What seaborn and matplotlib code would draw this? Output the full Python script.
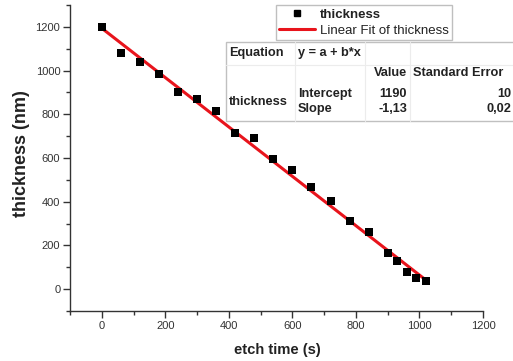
import numpy as np
import pandas as pd
import matplotlib
matplotlib.use("Agg")
import matplotlib.pyplot as plt
from matplotlib.lines import Line2D
from matplotlib.patches import Rectangle
import seaborn as sns

# ---- data ----
etch_time = [0, 60, 120, 180, 240, 300, 360, 420, 480, 540, 600, 660, 720,
             780, 840, 900, 930, 960, 990, 1020]
thickness = [1200, 1080, 1040, 984, 904, 868, 815, 716, 690, 594, 543, 469,
             404, 310, 262, 167, 127, 80, 49, 37]
x_ticks = [0, 200, 400, 600, 800, 1000, 1200]
y_ticks = [0, 200, 400, 600, 800, 1000, 1200]
fit_intercept_txt = "1190"
fit_slope_txt = "-1,13"
fit_int_err_txt = "10"
fit_slope_err_txt = "0,02"

df = pd.DataFrame({"etch time (s)": etch_time, "thickness (nm)": thickness})

sns.set_style("ticks")
plt.rcParams["font.family"] = ["Liberation Sans", "DejaVu Sans"]

W, H = 513, 361
fig = plt.figure(figsize=(W / 100, H / 100), dpi=100)
ax = fig.add_axes([70 / W, 1 - 311 / H, (483 - 70) / W, (311 - 5) / H])

sns.scatterplot(data=df, x="etch time (s)", y="thickness (nm)", ax=ax,
                marker="s", s=30, color="black", edgecolor="black",
                linewidth=0, zorder=3)
sns.regplot(data=df, x="etch time (s)", y="thickness (nm)", ax=ax,
            scatter=False, ci=None, truncate=True,
            line_kws=dict(color="#e8141c", lw=2.2, zorder=2))

ax.set_xlim(-100, 1200)
ax.set_ylim(-100, 1300)
ax.set_xticks(x_ticks)
ax.set_yticks(y_ticks)
ax.xaxis.set_minor_locator(matplotlib.ticker.MultipleLocator(100))
ax.yaxis.set_minor_locator(matplotlib.ticker.MultipleLocator(100))
ax.tick_params(which="major", direction="out", length=5, width=1,
               color="#333333", labelsize=8, labelcolor="#333333", pad=2)
ax.tick_params(which="minor", direction="out", length=3, width=1,
               color="#333333")
sns.despine(ax=ax)
for s in ["left", "bottom"]:
    ax.spines[s].set_color("#333333")
    ax.spines[s].set_linewidth(1.0)

ax.set_xlabel("")
ax.set_ylabel("")
fig.text(277 / W, 1 - 350 / H, "etch time (s)", ha="center", va="center",
         fontsize=10.6, fontweight="bold", color="#222222")
fig.text(22 / W, 1 - 154 / H, "thickness (nm)", ha="center", va="center",
         rotation=90, fontsize=13, fontweight="bold", color="#222222")

# ---- legend ----
handles = [Line2D([], [], ls="none", marker="s", color="black", markersize=5),
           Line2D([], [], color="#e8141c", lw=2.2)]
leg = fig.legend(handles, ["thickness", "Linear Fit of thickness"],
                 loc="upper left", bbox_to_anchor=(276 / W, 1 - 5 / H),
                 frameon=True, fancybox=False, fontsize=9.5,
                 handlelength=2.7, handletextpad=0.35, labelspacing=0.3,
                 borderpad=0.25, borderaxespad=0)
leg.get_frame().set_edgecolor("#b0b0b0")
leg.get_frame().set_linewidth(1.0)
leg.get_texts()[0].set_fontweight("bold")
for t in leg.get_texts():
    t.set_color("#222222")


# ---- fit result table ----
def fx(px):
    return px / W


def fy(py):
    return 1 - py / H


tab = Rectangle((fx(226), fy(121)), fx(540) - fx(226), fy(42) - fy(121),
                transform=fig.transFigure, fill=True, facecolor="white",
                edgecolor="#c0c0c0", lw=1.0, zorder=5)
fig.add_artist(tab)
for (x0, y0, x1, y1) in [(226, 65, 540, 65), (295, 42, 295, 121),
                         (365, 42, 365, 121), (410, 42, 410, 121)]:
    fig.add_artist(Line2D([fx(x0), fx(x1)], [fy(y0), fy(y1)],
                          transform=fig.transFigure, color="#ececec",
                          lw=0.8, zorder=6))

tk = dict(fontsize=9.2, fontweight="bold", color="#222222", va="center",
          zorder=7)
fig.text(fx(229), fy(53), "Equation", ha="left", **tk)
fig.text(fx(298), fy(53), "y = a + b*x", ha="left", **tk)
fig.text(fx(407), fy(73), "Value", ha="right", **tk)
fig.text(fx(413), fy(73), "Standard Error", ha="left", **tk)
fig.text(fx(229), fy(102), "thickness", ha="left", **tk)
fig.text(fx(298), fy(94), "Intercept", ha="left", **tk)
fig.text(fx(298), fy(109), "Slope", ha="left", **tk)
fig.text(fx(407), fy(94), fit_intercept_txt, ha="right", **tk)
fig.text(fx(407), fy(109), fit_slope_txt, ha="right", **tk)
fig.text(fx(511), fy(94), fit_int_err_txt, ha="right", **tk)
fig.text(fx(511), fy(109), fit_slope_err_txt, ha="right", **tk)

fig.savefig("out.png", dpi=100)
